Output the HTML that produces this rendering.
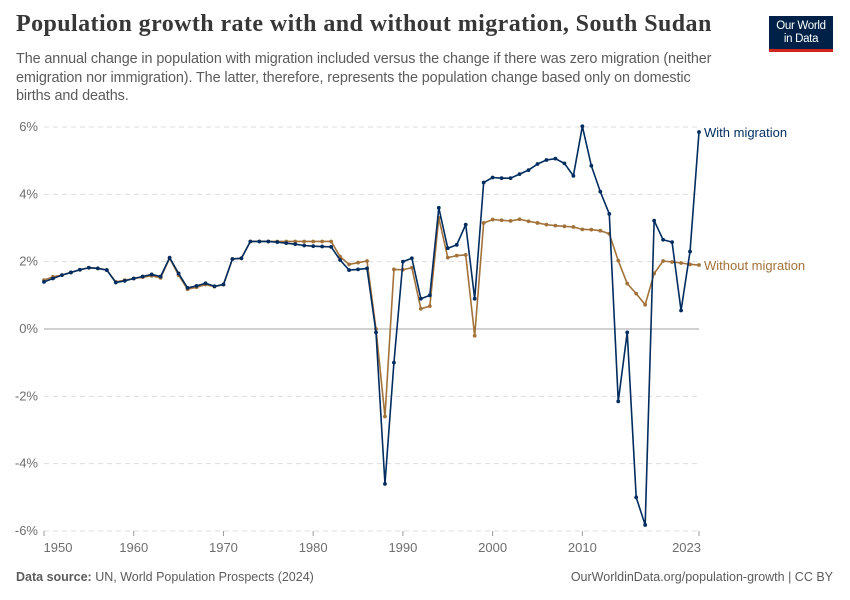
<!DOCTYPE html>
<html><head><meta charset="utf-8">
<style>
body{margin:0;background:#fff;width:850px;height:600px;overflow:hidden;font-family:"Liberation Sans",sans-serif;position:relative}
#title{position:absolute;left:16px;top:11px;font-family:"Liberation Serif",serif;font-weight:bold;font-size:24px;color:#373737;letter-spacing:0.42px;margin:0}
#sub{position:absolute;left:16px;top:50px;width:700px;font-size:14.4px;line-height:18.5px;color:#5b5b5b;letter-spacing:-0.1px}
#logo{position:absolute;left:769px;top:16px;width:64px;height:36px;background:#002147;border-bottom:3px solid #ce261e;color:#fff;font-size:11.5px;line-height:13px;text-align:center;padding-top:4px;box-sizing:border-box;letter-spacing:-0.3px}
#foot-l{position:absolute;left:16px;top:570px;font-size:12.5px;color:#5b5b5b}
#foot-r{position:absolute;right:17px;top:570px;font-size:12.5px;color:#5b5b5b}
</style></head><body>
<h1 id="title">Population growth rate with and without migration, South Sudan</h1>
<div id="sub">The annual change in population with migration included versus the change if there was zero migration (neither emigration nor immigration). The latter, therefore, represents the population change based only on domestic births and deaths.</div>
<div id="logo">Our World<br>in Data</div>
<div id="foot-l"><b>Data source:</b> UN, World Population Prospects (2024)</div>
<div id="foot-r">OurWorldinData.org/population-growth | CC BY</div>
<svg id="chart" width="850" height="600" style="position:absolute;left:0;top:0"></svg>
<script>
const years=[];for(let y=1950;y<=2023;y++)years.push(y);
const withMig=[1.4,1.5,1.6,1.68,1.76,1.82,1.8,1.75,1.38,1.43,1.5,1.56,1.62,1.56,2.12,1.65,1.22,1.28,1.36,1.27,1.32,2.08,2.1,2.6,2.6,2.6,2.58,2.55,2.52,2.48,2.46,2.45,2.44,2.05,1.75,1.77,1.8,-0.1,-4.6,-1.0,2.0,2.1,0.9,1.0,3.6,2.4,2.5,3.1,0.9,4.35,4.5,4.48,4.48,4.6,4.72,4.9,5.02,5.06,4.92,4.55,6.02,4.85,4.08,3.42,-2.15,-0.1,-5.0,-5.82,3.22,2.65,2.58,0.55,2.3,5.85];
const withoutMig=[1.45,1.55,1.6,1.68,1.76,1.82,1.8,1.75,1.4,1.45,1.5,1.54,1.58,1.52,2.1,1.6,1.18,1.24,1.32,1.26,1.32,2.08,2.1,2.6,2.6,2.6,2.6,2.6,2.6,2.6,2.6,2.6,2.6,2.15,1.92,1.97,2.02,0.0,-2.6,1.77,1.76,1.82,0.6,0.68,3.3,2.12,2.18,2.2,-0.2,3.15,3.25,3.23,3.21,3.26,3.2,3.15,3.1,3.07,3.05,3.03,2.96,2.95,2.92,2.83,2.03,1.35,1.05,0.72,1.65,2.02,1.99,1.96,1.92,1.9];
const yTicks=[6,4,2,0,-2,-4,-6];
const xTicks=[1950,1960,1970,1980,1990,2000,2010,2023];
const X=y=>44+(y-1950)*(655/73);
const Y=v=>329-v*(202/6);
const svg=document.getElementById('chart');const NS='http://www.w3.org/2000/svg';
function mk(t,a){const e=document.createElementNS(NS,t);for(const k in a)e.setAttribute(k,a[k]);svg.appendChild(e);return e;}
yTicks.forEach(v=>{
  const l=mk('line',{x1:44,x2:699,y1:Y(v),y2:Y(v),stroke:v===0?'#a3a3a3':'#dddddd','stroke-dasharray':v===0?'':'5,4','stroke-width':1});
  
  
  const t=mk('text',{x:38,y:Y(v)+4,'text-anchor':'end','font-size':13,fill:'#6e6e6e','font-family':'Liberation Sans'});
  t.textContent=v+'%';
  
  
});
xTicks.forEach(v=>{
  const l=mk('line',{x1:X(v),x2:X(v),y1:531,y2:536,stroke:'#999'});
  
  
  const t=mk('text',{x:X(v),y:552,'text-anchor':v===2023?'end':'middle','font-size':13,fill:'#6e6e6e','font-family':'Liberation Sans'});
  if(v===2023)t.setAttribute('x',X(v)+2);
  if(v===1950)t.setAttribute('x',X(v)+14);
  t.textContent=v;
  
  
});
function series(vals,color,name,label,ly){
  const p=mk('polyline',{points:vals.map((v,i)=>X(years[i])+','+Y(v)).join(' '),fill:'none',stroke:color,'stroke-width':1.6,'stroke-linejoin':'round'});
  
  
  vals.forEach((v,i)=>{
    const c=mk('circle',{cx:X(years[i]),cy:Y(v),r:1.9,fill:color});
    
    
  });
  const t=mk('text',{x:704,y:ly,'font-size':13,fill:color,'font-family':'Liberation Sans'});
  t.textContent=label;
  
  
}
series(withoutMig,'#a2723a','without-migration','Without migration',Y(withoutMig[73])+5);
series(withMig,'#002c5f','with-migration','With migration',Y(withMig[73])+5);
</script>
</body></html>
